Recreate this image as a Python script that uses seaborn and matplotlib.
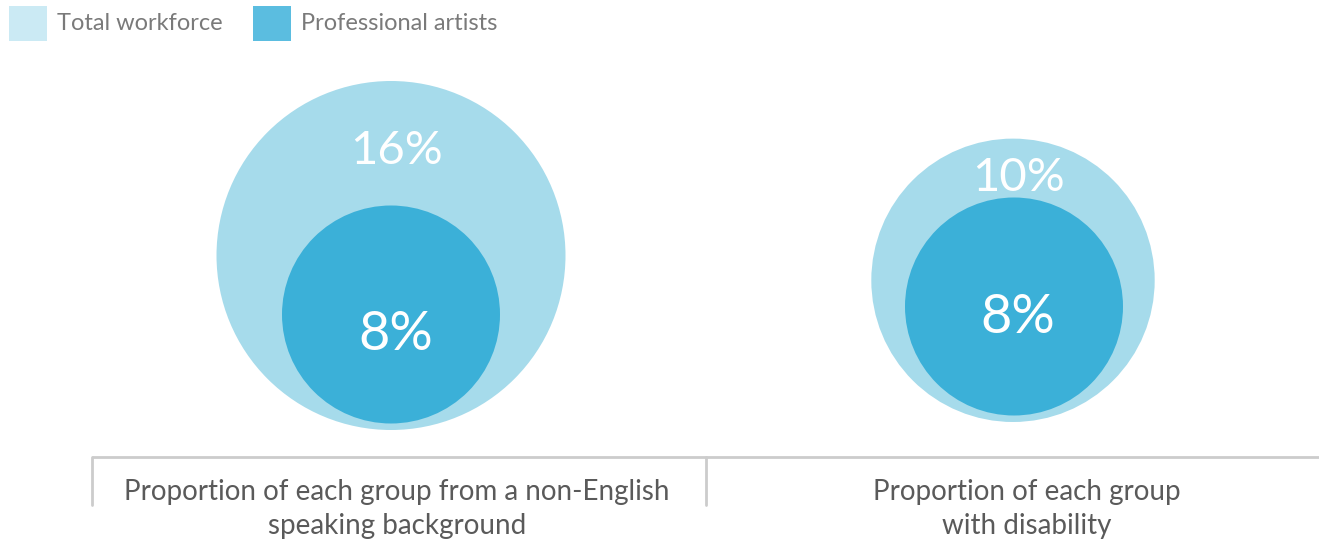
import numpy as np
import pandas as pd
import matplotlib
matplotlib.use("Agg")
import matplotlib.pyplot as plt
import matplotlib.colors as mcolors
from matplotlib.patches import Rectangle
import seaborn as sns

# ---------------- data ----------------
categories = ["Proportion of each group from a non-English\nspeaking background",
              "Proportion of each group\nwith disability"]
series_names = ["Total workforce", "Professional artists"]
total_workforce = [16, 10]
professional_artists = [8, 8]
value_labels_total = ["16%", "10%"]
value_labels_artists = ["8%", "8%"]

# ---------------- style / layout ----------------
sns.set_theme(style="white")
plt.rcParams['font.family'] = ['Lato', 'DejaVu Sans']

W, H, DPI = 1319, 542, 100
C_LIGHT = "#a6dbeb"
C_DARK = "#3bb0d8"
LEG_LIGHT = "#cbeaf4"
LEG_DARK = "#5bbde0"
TXT = "#5a5a5a"
LEG_TXT = "#7a7a7a"
LINE = "#cccccc"

group_x = [391, 1013]          # px centres of the groups
group_base = [430, 422]        # px bottom of the outer circles
inner_inset = 6.5              # px gap between outer and inner circle bottoms
label_x = [397, 1027]
outer_label_dy = [8, 10]
inner_label_dy = [20, 11]

# marker-area scale (pt^2) driven by the values
s_min, s_max = (2 * 109 * 0.72) ** 2, (2 * 174.5 * 0.72) ** 2
size_norm = mcolors.PowerNorm(gamma=0.59, vmin=8, vmax=16)

def radius_px(v):
    s = s_min + float(size_norm(v)) * (s_max - s_min)
    return np.sqrt(s) / 2 / 0.72

rows = []
for i, cat in enumerate(categories):
    r_out = radius_px(total_workforce[i])
    rows.append(dict(category=cat, series=series_names[0], value=total_workforce[i],
                     x=group_x[i], y=group_base[i] - r_out))
for i, cat in enumerate(categories):
    r_in = radius_px(professional_artists[i])
    rows.append(dict(category=cat, series=series_names[1], value=professional_artists[i],
                     x=group_x[i] + (1 if i else 0), y=group_base[i] - inner_inset - r_in))
df = pd.DataFrame(rows)

fig = plt.figure(figsize=(W / DPI, H / DPI), dpi=DPI)
ax = fig.add_axes([0, 0, 1, 1])

sns.scatterplot(data=df, x="x", y="y", hue="series", size="value",
                palette={series_names[0]: C_LIGHT, series_names[1]: C_DARK},
                sizes=(s_min, s_max), size_norm=size_norm,
                linewidth=0, alpha=1, legend=False, ax=ax, marker="o")
ax.set_xlim(0, W)
ax.set_ylim(H, 0)
ax.set_axis_off()

# value labels
for i in range(len(categories)):
    r_out = radius_px(total_workforce[i])
    r_in = radius_px(professional_artists[i])
    top_out = group_base[i] - 2 * r_out
    top_in = group_base[i] - inner_inset - 2 * r_in
    ax.text(group_x[i] + 6, (top_out + top_in) / 2 + outer_label_dy[i], value_labels_total[i],
            color="white", fontsize=34, fontweight="normal", ha="center", va="center")
    ax.text(group_x[i] + 5, group_base[i] - inner_inset - r_in + inner_label_dy[i],
            value_labels_artists[i],
            color="white", fontsize=39, fontweight="normal", ha="center", va="center")

# category frame
ax.plot([92, W], [457, 457], color=LINE, lw=2, solid_capstyle="butt")
ax.plot([92, 92], [457, 505], color=LINE, lw=2)
ax.plot([706, 706], [457, 505], color=LINE, lw=2)
for i, cat in enumerate(categories):
    ax.text(label_x[i], 509, cat, color=TXT, fontsize=20, fontweight="normal",
            ha="center", va="center", linespacing=1.38)

# legend
ax.add_patch(Rectangle((9, 6), 38, 35, color=LEG_LIGHT, lw=0))
ax.text(57, 24, series_names[0], color=LEG_TXT, fontsize=17, fontweight="normal",
        ha="left", va="center")
ax.add_patch(Rectangle((253, 6), 38, 35, color=LEG_DARK, lw=0))
ax.text(301, 24, series_names[1], color=LEG_TXT, fontsize=17, fontweight="normal",
        ha="left", va="center")

fig.savefig("out.png", dpi=DPI, facecolor="white")
